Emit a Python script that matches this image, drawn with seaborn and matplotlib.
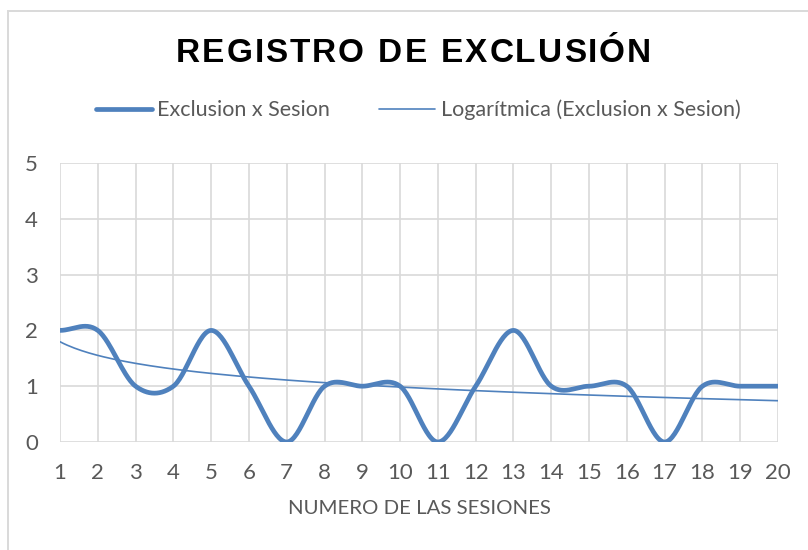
import numpy as np
import pandas as pd
import matplotlib
matplotlib.use("Agg")
import matplotlib.pyplot as plt
from matplotlib.patches import Rectangle
import seaborn as sns

# ---- data ----
sessions = [1, 2, 3, 4, 5, 6, 7, 8, 9, 10, 11, 12, 13, 14, 15, 16, 17, 18, 19, 20]
exclusion = [2, 2, 1, 1, 2, 1, 0, 1, 1, 1, 0, 1, 2, 1, 1, 1, 0, 1, 1, 1]
y_ticks = [0, 1, 2, 3, 4, 5]
title_text = "REGISTRO DE EXCLUSIÓN"
series_label = "Exclusion x Sesion"
trend_label = "Logarítmica (Exclusion x Sesion)"
x_label = "NUMERO DE LAS SESIONES"

BLUE = "#4f81bd"
GRID = "#d9d9d9"
TXT = "#595959"


def smooth_curve(x, y, n=30):
    """Catmull-Rom (Excel-like smoothed line) through the data points."""
    x = np.asarray(x, float)
    y = np.asarray(y, float)
    k = len(y)
    m = np.zeros(k)
    for i in range(k):
        a = y[max(i - 1, 0)]
        b = y[min(i + 1, k - 1)]
        m[i] = (b - a) / 2.0
    xs, ys = [], []
    for i in range(k - 1):
        t = np.linspace(0, 1, n, endpoint=(i == k - 2))
        h00 = 2 * t**3 - 3 * t**2 + 1
        h10 = t**3 - 2 * t**2 + t
        h01 = -2 * t**3 + 3 * t**2
        h11 = t**3 - t**2
        ys.append(h00 * y[i] + h10 * m[i] + h01 * y[i + 1] + h11 * m[i + 1])
        xs.append(x[i] + t * (x[i + 1] - x[i]))
    return np.concatenate(xs), np.concatenate(ys)


sx, sy = smooth_curve(sessions, exclusion)
df_smooth = pd.DataFrame({"x": sx, "y": sy})

coef = np.polyfit(np.log(sessions), exclusion, 1)
tx = np.linspace(sessions[0], sessions[-1], 200)
df_trend = pd.DataFrame({"x": tx, "y": coef[0] * np.log(tx) + coef[1]})

sns.set_theme(style="white")
plt.rcParams["font.family"] = ["Lato", "DejaVu Sans"]

fig = plt.figure(figsize=(8.08, 5.50), dpi=100)
ax = fig.add_axes([60 / 808, 1 - 442 / 550, (778 - 60) / 808, (442 - 163) / 550])

sns.lineplot(data=df_smooth, x="x", y="y", ax=ax, color=BLUE, lw=3.4,
             estimator=None, sort=False, label=series_label,
             solid_capstyle="round", zorder=3)
sns.lineplot(data=df_trend, x="x", y="y", ax=ax, color=BLUE, lw=1.2,
             estimator=None, sort=False, label=trend_label, zorder=3)

ax.set_xlim(sessions[0], sessions[-1])
ax.set_ylim(0, 5)
ax.set_xticks(sessions)
ax.set_xticklabels([str(s) for s in sessions])
ax.set_yticks(y_ticks)
ax.set_yticklabels([str(v) for v in y_ticks])
ax.grid(True, color=GRID, lw=1.2, zorder=0)
ax.set_axisbelow(True)
for sp in ax.spines.values():
    sp.set_visible(False)
ax.tick_params(axis="both", length=0, labelsize=16, labelcolor=TXT)
ax.tick_params(axis="x", pad=15)
ax.tick_params(axis="y", pad=16)
ax.set_xlabel(x_label, fontsize=14.7, color=TXT, labelpad=12)
ax.set_ylabel("")

leg = ax.legend(loc="center", bbox_to_anchor=(418 / 808, 1 - 110 / 550), bbox_transform=fig.transFigure,
                ncol=2, frameon=False, fontsize=15.5, handlelength=2.6, handletextpad=0.25,
                columnspacing=2.3)
for t in leg.get_texts():
    t.set_color(TXT)

# figure border
fig.patches.append(Rectangle((8 / 808, -0.2), 1.2, 1.2 - 11 / 550, transform=fig.transFigure,
                             fill=False, edgecolor=GRID, lw=1.4, zorder=0))

# title with letter spacing
renderer = fig.canvas.get_renderer()
fsz = 24
target_w = 475
widths = []
for ch in title_text:
    t = fig.text(0, 0, ch if ch != " " else "n", fontsize=fsz, fontweight="bold",
                 family="Liberation Sans")
    w = t.get_window_extent(renderer).width
    if ch == " ":
        w *= 0.5
    widths.append(w)
    t.remove()
gap = (target_w - sum(widths)) / (len(title_text) - 1)
xpos = 176
for ch, w in zip(title_text, widths):
    if ch != " ":
        fig.text(xpos / 808, 1 - 62 / 550, ch, fontsize=fsz, fontweight="bold",
                 family="Liberation Sans", color="black", ha="left", va="baseline")
    xpos += w + gap

fig.savefig("out.png", dpi=100)
